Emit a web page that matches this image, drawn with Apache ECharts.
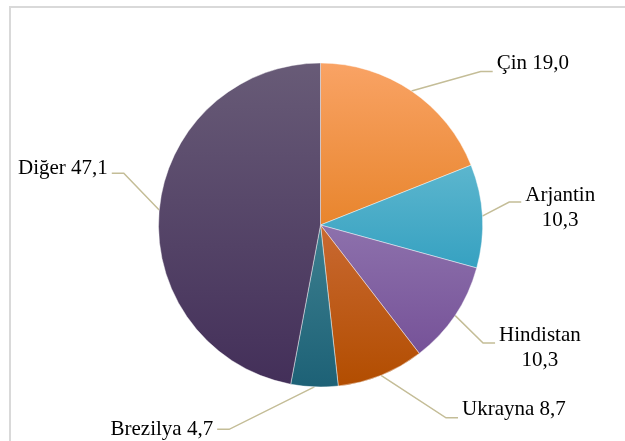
<!DOCTYPE html>
<html>
<head>
<meta charset="utf-8">
<script src="https://cdn.jsdelivr.net/npm/echarts@6/dist/echarts.min.js"></script>
<style>
html,body{margin:0;padding:0;background:#fff;}
#main{width:625px;height:441px;}
</style>
</head>
<body>
<div id="main"></div>
<script>
// Data
var categories = ['Çin', 'Arjantin', 'Hindistan', 'Ukrayna', 'Brezilya', 'Diğer'];
var values = [19.0, 10.3, 10.3, 8.7, 4.7, 47.1];
var twoLineLabel = [false, true, true, false, false, false];

// Styles
var FONT = '"Liberation Serif", "DejaVu Serif", serif';
var gradients = [
  ['#f9a365', '#e8852d'],
  ['#5cb6ce', '#36a1c1'],
  ['#8d71ac', '#765298'],
  ['#c96932', '#b24d00'],
  ['#3d8090', '#1d6176'],
  ['#685b77', '#432f59']
];
var labelShift = [[49, -11], [-2, -7.5], [2.5, 21.5], [48.5, 15.5], [-75.5, 22.5], [-6.5, -40]];
var lineAttach = [20.5, 19.5, 20, 21, 12.5, 17.5];

var chart = echarts.init(document.getElementById('main'), null, {renderer: 'canvas'});

var data = categories.map(function (n, i) {
  return {
    name: n,
    value: values[i],
    itemStyle: {
      color: new echarts.graphic.LinearGradient(0, 0, 0, 1, [
        {offset: 0, color: gradients[i][0]},
        {offset: 1, color: gradients[i][1]}
      ])
    }
  };
});

function fmt(v) { return v.toFixed(1).replace('.', ','); }

var option = {
  animation: false,
  graphic: [{
    type: 'rect',
    shape: {x: 10, y: 7, width: 700, height: 500},
    style: {fill: 'none', stroke: '#d9d9d9', lineWidth: 2},
    silent: true,
    z: -1
  }],
  series: [{
    type: 'pie',
    center: [320.5, 225],
    radius: [0, 162],
    startAngle: 90,
    clockwise: true,
    avoidLabelOverlap: false,
    data: data,
    itemStyle: {borderColor: 'rgba(255,255,255,0.55)', borderWidth: 0.8},
    label: {
      show: true,
      position: 'outside',
      color: '#000',
      fontFamily: FONT,
      fontSize: 21,
      lineHeight: 25,
      formatter: function (p) {
        var i = p.dataIndex;
        if (twoLineLabel[i]) {
          return '{c|' + p.name + '}\n{c|' + fmt(p.value) + '}';
        }
        return '{c|' + p.name + ' ' + fmt(p.value) + '}';
      },
      rich: {
        c: {
          align: 'center',
          color: '#000',
          fontFamily: FONT,
          fontSize: 21,
          lineHeight: 25
        }
      }
    },
    labelLine: {
      show: true,
      length: 20,
      length2: 20,
      lineStyle: {color: '#c4bd97', width: 1.5}
    },
    labelLayout: function (p) {
      var i = p.dataIndex;
      var off = labelShift[i];
      var r = p.labelRect;
      var pts = p.labelLinePoints;
      var nx = r.x + off[0];
      var ny = r.y + off[1] + lineAttach[i];
      var right = pts[2][0] >= pts[1][0];
      var end, elbow;
      if (right) {
        end = [nx - 4, ny];
        elbow = [nx - 16, ny];
      } else {
        end = [nx + r.width + 4, ny];
        elbow = [nx + r.width + 16, ny];
      }
      return {
        dx: off[0],
        dy: off[1],
        labelLinePoints: [pts[0], elbow, end]
      };
    }
  }]
};
chart.setOption(option);
</script>
</body>
</html>
